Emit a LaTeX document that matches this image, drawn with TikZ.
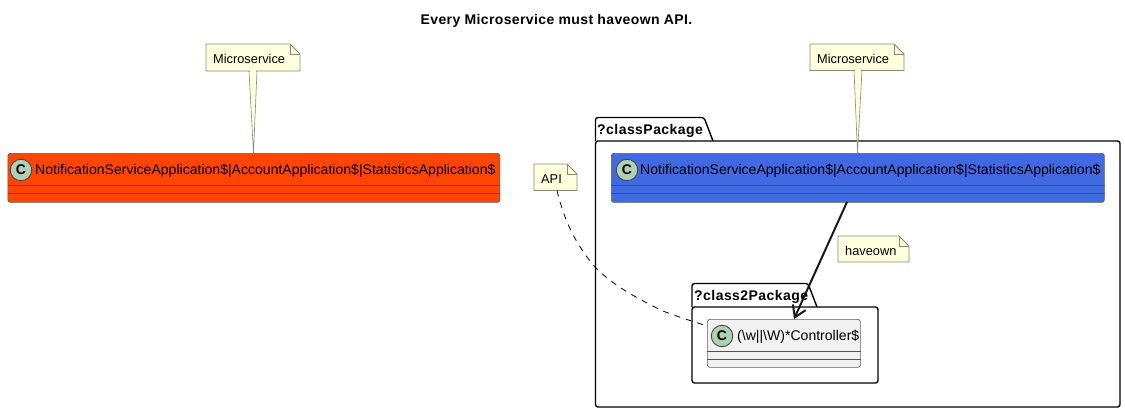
\documentclass[tikz,border=0pt]{standalone}
\usepackage{fontspec}
\setmainfont{Liberation Sans}
\newfontfamily\spacedbold[LetterSpace=3.2]{Liberation Sans Bold}
\newfontfamily\titlebold[LetterSpace=2.7]{Liberation Sans Bold}
\usetikzlibrary{arrows.meta}
\definecolor{notefill}{HTML}{FEFFDD}
\definecolor{noteline}{HTML}{8A8A72}
\definecolor{classline}{HTML}{181818}
\definecolor{spotfill}{HTML}{ADD1B2}
\definecolor{orangecls}{HTML}{FF4500}
\definecolor{bluecls}{HTML}{4169E1}
\definecolor{plaincls}{HTML}{F1F1F1}
\tikzset{
  notepath/.style={draw=noteline,fill=notefill,line width=0.8pt,line join=miter},
  notetext/.style={inner sep=0pt,anchor=west,font=\fontsize{12.8}{15}\selectfont,text=black},
  classbox/.style={draw=classline!70,line width=0.7pt,rounded corners=2.5pt,anchor=north west,inner sep=0pt},
  classtext/.style={inner sep=0pt,anchor=west,font=\fontsize{14.05}{16}\selectfont,text=black},
  divider/.style={draw=classline!75,line width=0.7pt},
  spot/.style={circle,draw=classline!80,fill=spotfill,line width=0.9pt,minimum size=21.5pt,inner sep=0pt,font=\fontsize{14}{16}\selectfont\bfseries},
  pkgline/.style={draw=black,line width=1.4pt,line join=round,rounded corners=2.5pt},
  pkgtext/.style={inner sep=0pt,anchor=west,font=\fontsize{14}{16}\selectfont\spacedbold,text=black},
  tail/.style={draw=noteline,fill=notefill,line width=0.6pt},
  titletext/.style={inner sep=0pt,font=\fontsize{14}{16}\selectfont\titlebold,text=black}
}
\newcommand{\notebox}[6]{%
  \path[notepath] (#2,#3) -- (#2,#5) -- (#4,#5) -- (#4,#3+10) -- (#4-10,#3) -- cycle;
  \path[notepath,fill=none] (#4-10,#3) -- (#4-10,#3+10) -- (#4,#3+10);
  \node[notetext] (#1) at (#2+7,#3+15) {#6};
}
\begin{document}
\begin{tikzpicture}[x=1pt,y=-1pt]
\useasboundingbox (0,0) rectangle (1125,413);

\node[titletext] (title) at (556.5,21) {Every Microservice must haveown API.};

% outer package
\path[pkgline] (595.5,141) -- (595.5,117.5) -- (704,117.5) -- (713,141);
\path[pkgline] (595.5,141) rectangle (1120,407);
\node[pkgtext] (pkgA) at (597,130.5) {?classPackage};

% inner package
\path[pkgline] (692,307) -- (692,283.5) -- (808,283.5) -- (817,307);
\path[pkgline] (692,307) rectangle (878,383);
\node[pkgtext] (pkgB) at (694,296.5) {?class2Package};

% left class
\node[classbox,fill=orangecls,minimum width=492pt,minimum height=49pt] (orange) at (7.5,153) {};
\draw[divider] (orange.west |- 0,185) -- (orange.east |- 0,185);
\draw[divider] (orange.west |- 0,193) -- (orange.east |- 0,193);
\node[spot] (spotA) at (21,170) {C};
\node[classtext] (orangeT) at (35,170.5) {NotificationServiceApplication\$|AccountApplication\$|StatisticsApplication\$};

% blue class
\node[classbox,fill=bluecls,minimum width=493pt,minimum height=49pt] (blue) at (611,153) {};
\draw[divider] (blue.west |- 0,185) -- (blue.east |- 0,185);
\draw[divider] (blue.west |- 0,193) -- (blue.east |- 0,193);
\node[spot] (spotB) at (627,170) {C};
\node[classtext] (blueT) at (640,170.5) {NotificationServiceApplication\$|AccountApplication\$|StatisticsApplication\$};

% controller class
\node[classbox,fill=plaincls,minimum width=153pt,minimum height=48pt] (ctrl) at (707,319) {};
\draw[divider] (ctrl.west |- 0,351) -- (ctrl.east |- 0,351);
\draw[divider] (ctrl.west |- 0,359) -- (ctrl.east |- 0,359);
\node[spot] (spotC) at (722,336) {C};
\node[classtext] (ctrlT) at (737,336.5) {(\textbackslash w||\textbackslash W)*Controller\$};

% note tails
\path[tail] (249,71) -- (253.5,153) -- (257,71) -- cycle;
\path[tail] (854,70.5) -- (857.5,153) -- (862,70.5) -- cycle;

% notes
\notebox{noteA}{206}{44}{300}{71}{Microservice}
\notebox{noteB}{810}{44}{904}{70.5}{Microservice}
\notebox{noteC}{534}{164}{577}{190.5}{API}
\notebox{noteD}{838}{236}{909}{262}{haveown}
\fill[notefill] (250,70) rectangle (256,72);
\fill[notefill] (855,69.5) rectangle (861,71.5);

% connectors
\coordinate (arrowfrom) at (847,202);
\coordinate (arrowto) at (794,319);
\draw[black!90,line width=2pt,-{Straight Barb[length=11pt,width=14pt,line width=2pt]}] (arrowfrom) -- (arrowto);
\coordinate (dashfrom) at (557,190.5);
\coordinate (dashto) at (707,326);
\draw[black,line width=0.8pt,dash pattern=on 6pt off 6pt] (dashfrom) .. controls (563,215) and (572,240) .. (595,267) .. controls (612,285) and (640,300) .. (663,311) .. controls (678,317) and (692,321) .. (dashto);
\end{tikzpicture}
\end{document}
